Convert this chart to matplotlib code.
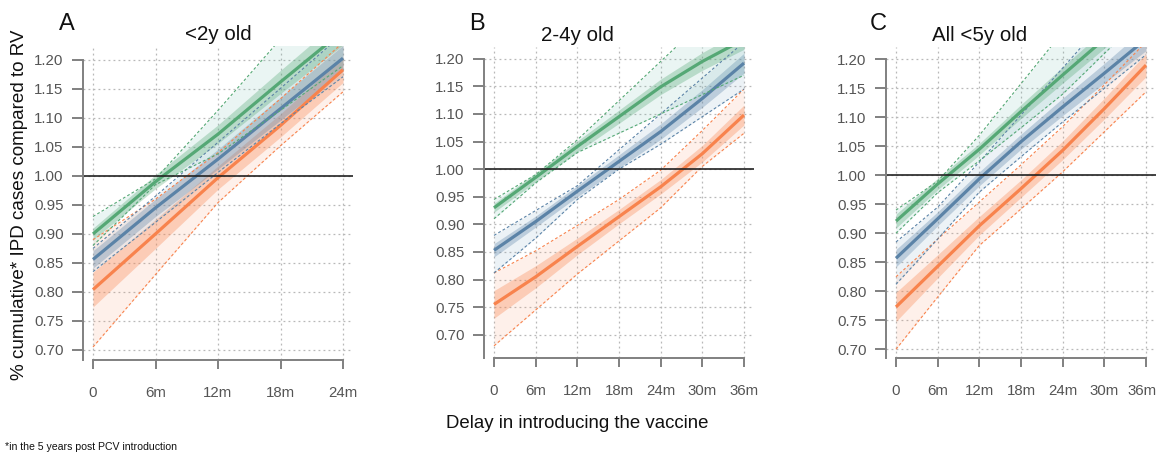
import matplotlib
matplotlib.use('Agg')
import matplotlib.pyplot as plt
import matplotlib.transforms as mtransforms

plt.rcParams['font.family'] = ['Liberation Sans', 'DejaVu Sans']

W, H = 1157, 455

months_a = [0, 6, 12, 18, 24]
months_bc = [0, 6, 12, 18, 24, 30, 36]
xlab_a = ['0', '6m', '12m', '18m', '24m']
xlab_bc = ['0', '6m', '12m', '18m', '24m', '30m', '36m']
yticks = [0.70, 0.75, 0.80, 0.85, 0.90, 0.95, 1.00, 1.05, 1.10, 1.15, 1.20]

# panel A: <2y old
a_green = [0.900, 0.990, 1.072, 1.162, 1.250]
a_green_hi = [0.930, 0.995, 1.113, 1.236, 1.360]
a_green_lo = [0.880, 0.985, 1.038, 1.113, 1.190]
a_green_w = [0.010, 0.012, 0.016, 0.020, 0.024]
a_blue = [0.856, 0.945, 1.029, 1.116, 1.203]
a_blue_hi = [0.875, 0.965, 1.058, 1.151, 1.245]
a_blue_lo = [0.835, 0.920, 1.006, 1.090, 1.171]
a_blue_w = [0.015, 0.015, 0.017, 0.020, 0.022]
a_orange = [0.804, 0.900, 0.997, 1.087, 1.183]
a_orange_hi = [0.890, 0.960, 1.040, 1.133, 1.230]
a_orange_lo = [0.705, 0.830, 0.954, 1.052, 1.145]
a_orange_w = [0.030, 0.025, 0.020, 0.020, 0.022]

# panel B: 2-4y old
b_green = [0.930, 0.985, 1.041, 1.095, 1.149, 1.195, 1.235]
b_green_hi = [0.945, 0.990, 1.053, 1.124, 1.195, 1.266, 1.337]
b_green_lo = [0.910, 0.975, 1.030, 1.065, 1.100, 1.135, 1.170]
b_green_w = [0.008, 0.008, 0.010, 0.012, 0.014, 0.016, 0.018]
b_blue = [0.853, 0.905, 0.960, 1.014, 1.068, 1.128, 1.192]
b_blue_hi = [0.880, 0.925, 0.970, 1.035, 1.100, 1.165, 1.230]
b_blue_lo = [0.812, 0.875, 0.945, 1.000, 1.045, 1.095, 1.145]
b_blue_w = [0.012, 0.010, 0.010, 0.012, 0.014, 0.016, 0.018]
b_orange = [0.755, 0.805, 0.860, 0.914, 0.968, 1.028, 1.098]
b_orange_hi = [0.812, 0.852, 0.898, 0.945, 0.998, 1.070, 1.145]
b_orange_lo = [0.680, 0.745, 0.810, 0.870, 0.930, 1.005, 1.065]
b_orange_w = [0.025, 0.020, 0.015, 0.013, 0.013, 0.015, 0.018]

# panel C: all <5y old
c_green = [0.921, 0.985, 1.045, 1.110, 1.173, 1.235, 1.300]
c_green_hi = [0.940, 0.990, 1.069, 1.158, 1.247, 1.336, 1.425]
c_green_lo = [0.900, 0.970, 1.025, 1.082, 1.140, 1.210, 1.280]
c_green_w = [0.012, 0.010, 0.010, 0.012, 0.014, 0.016, 0.018]
c_blue = [0.857, 0.925, 0.994, 1.058, 1.118, 1.176, 1.235]
c_blue_hi = [0.885, 0.945, 1.023, 1.104, 1.185, 1.266, 1.350]
c_blue_lo = [0.812, 0.890, 0.971, 1.032, 1.092, 1.150, 1.208]
c_blue_w = [0.015, 0.012, 0.012, 0.013, 0.015, 0.017, 0.020]
c_orange = [0.773, 0.843, 0.913, 0.977, 1.043, 1.115, 1.190]
c_orange_hi = [0.825, 0.890, 0.954, 1.018, 1.084, 1.156, 1.230]
c_orange_lo = [0.700, 0.790, 0.879, 0.942, 1.006, 1.075, 1.144]
c_orange_w = [0.025, 0.020, 0.016, 0.015, 0.016, 0.018, 0.020]

green = '#55a875'
blue = '#5b83a7'
orange = '#f8834d'
green_fill = '#6cbfae'
blue_fill = '#7fa5c2'
orange_fill = '#fb9a6e'


def band(ax, x, mid, lo, hi, w, col, fcol):
    ax.fill_between(x, lo, hi, color=fcol, alpha=0.14, lw=0)
    ax.plot(x, lo, color=col, lw=0.8, ls=(0, (2.5, 2)))
    ax.plot(x, hi, color=col, lw=0.8, ls=(0, (2.5, 2)))
    inner_lo = [m - d for m, d in zip(mid, w)]
    inner_hi = [m + d for m, d in zip(mid, w)]
    ax.fill_between(x, inner_lo, inner_hi, color=col, alpha=0.33, lw=0)
    ax.plot(x, mid, color=col, lw=2.3, solid_capstyle='butt')


def panel(rect, x, xlabs, ylim, series, title, letter, letter_px):
    l, r, t, b = rect
    ax = fig.add_axes([l / W, 1 - b / H, (r - l) / W, (b - t) / H])
    xmax = x[-1]
    ext = xmax * 0.04
    ax.set_xlim(-ext, xmax + ext)
    ax.set_ylim(*ylim)
    for xv in x:
        ax.axvline(xv, color='#b8b8b8', lw=0.9, ls=(0, (1.5, 2.5)), zorder=0)
    for yv in yticks:
        ax.axhline(yv, color='#b8b8b8', lw=0.9, ls=(0, (1.5, 2.5)), zorder=0)
    for s in series:
        band(ax, x, *s)
    ax.axhline(1.0, color='#222222', lw=1.2)
    for sp in ['top', 'right']:
        ax.spines[sp].set_visible(False)
    ax.spines['left'].set_bounds(ylim[0], 1.20)
    ax.spines['bottom'].set_bounds(0, xmax)
    for sp in ['left', 'bottom']:
        ax.spines[sp].set_color('#808080')
        ax.spines[sp].set_linewidth(1.4)
    ax.set_xticks(x)
    ax.set_xticklabels(xlabs)
    ax.set_yticks(yticks)
    ax.set_yticklabels(['%.2f' % v for v in yticks])
    ax.tick_params(axis='x', length=6.5, width=1.4, color='#808080', pad=12,
                   labelsize=10.8, labelcolor='#555555')
    ax.tick_params(axis='y', length=8, width=1.4, color='#808080', pad=6,
                   labelsize=10.8, labelcolor='#555555')
    ax.text(12, ylim[1] + 0.02, title, ha='center', va='center', fontsize=14.8,
            color='#111111', clip_on=False)
    fig.text(letter_px / W, 1 - 23.5 / H, letter, ha='left', va='center',
             fontsize=17, color='#111111')
    return ax


fig = plt.figure(figsize=(W / 100, H / 100), dpi=100)

panel((83, 353, 46, 360), months_a, xlab_a, (0.6826, 1.224),
      [(a_orange, a_orange_lo, a_orange_hi, a_orange_w, orange, orange_fill),
       (a_blue, a_blue_lo, a_blue_hi, a_blue_w, blue, blue_fill),
       (a_green, a_green_lo, a_green_hi, a_green_w, green, green_fill)],
      '<2y old', 'A', 59)
panel((484, 754, 46.7, 358), months_bc, xlab_bc, (0.658, 1.2217),
      [(b_orange, b_orange_lo, b_orange_hi, b_orange_w, orange, orange_fill),
       (b_blue, b_blue_lo, b_blue_hi, b_blue_w, blue, blue_fill),
       (b_green, b_green_lo, b_green_hi, b_green_w, green, green_fill)],
      '2-4y old', 'B', 469)
axc = panel((886, 1156, 46.7, 358.3), months_bc, xlab_bc, (0.6844, 1.2218),
            [(c_orange, c_orange_lo, c_orange_hi, c_orange_w, orange, orange_fill),
             (c_blue, c_blue_lo, c_blue_hi, c_blue_w, blue, blue_fill),
             (c_green, c_green_lo, c_green_hi, c_green_w, green, green_fill)],
            'All <5y old', 'C', 870)
# nudge last label of C so it stays inside the image
last = axc.get_xticklabels()[-1]
last.set_transform(last.get_transform() +
                   mtransforms.ScaledTranslation(-4 / 100, 0, fig.dpi_scale_trans))

fig.text(20 / W, 1 - 205 / H, '% cumulative* IPD cases compared to RV',
         rotation=90, ha='center', va='center', fontsize=13.6, color='#111111')
fig.text(577 / W, 1 - 423 / H, 'Delay in introducing the vaccine',
         ha='center', va='center', fontsize=13.4, color='#111111')
fig.text(5 / W, 1 - 447 / H, '*in the 5 years post PCV introduction',
         ha='left', va='center', fontsize=7.6, color='#111111')

fig.savefig('out.png', dpi=100)
